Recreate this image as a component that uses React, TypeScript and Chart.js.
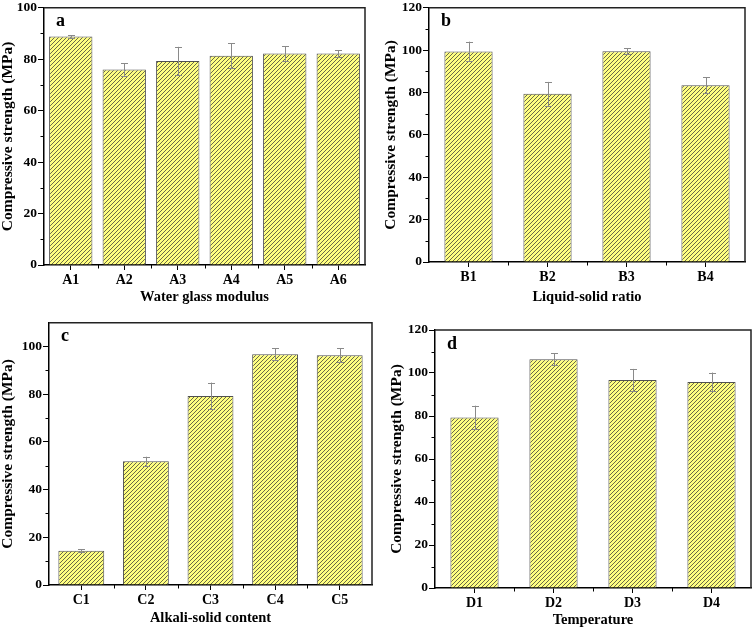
import React, { useEffect, useRef } from 'react';
import { Chart, registerables } from 'chart.js';

Chart.register(...registerables);

// ---- data ----
const catsA = ['A1', 'A2', 'A3', 'A4', 'A5', 'A6'];
const valsA = [88.8, 76.0, 79.3, 81.3, 82.2, 82.2];
const errA = [0.5, 2.5, 5.5, 4.9, 2.8, 1.3];

const catsB = ['B1', 'B2', 'B3', 'B4'];
const valsB = [99.4, 79.4, 99.5, 83.4];
const errB = [4.6, 5.6, 1.3, 3.8];

const catsC = ['C1', 'C2', 'C3', 'C4', 'C5'];
const valsC = [14.4, 51.9, 79.3, 96.8, 96.4];
const errC = [0.5, 1.9, 5.6, 2.5, 3.0];

const catsD = ['D1', 'D2', 'D3', 'D4'];
const valsD = [79.3, 106.4, 96.7, 95.8];
const errD = [5.5, 2.7, 5.2, 4.4];

const yTitle = 'Compressive strength (MPa)';

const FONT = "'Liberation Serif', 'Times New Roman', serif";
const W = 378;
const H = 315;

type Panel = {
  cats: string[];
  vals: number[];
  errs: number[];
  letter: string;
  xTitle: string;
  max: number;
  left: number;
  right: number;
  top: number;
  bottom: number;
  barPct: number;
  yTitlePad: number;
  xTitlePad: number;
  ox: number;
  oy: number;
};

const panels: Panel[] = [
  { cats: catsA, vals: valsA, errs: errA, letter: 'a', xTitle: 'Water glass modulus', max: 100,
    left: 44, right: 365, top: 7, bottom: 265, barPct: 0.81, yTitlePad: 0, xTitlePad: 10.5, ox: 0, oy: 0 },
  { cats: catsB, vals: valsB, errs: errB, letter: 'b', xTitle: 'Liquid-solid ratio', max: 120,
    left: 51, right: 367, top: 7, bottom: 262, barPct: 0.61, yTitlePad: 5, xTitlePad: 10.5, ox: 378, oy: 0 },
  { cats: catsC, vals: valsC, errs: errC, letter: 'c', xTitle: 'Alkali-solid content', max: 110,
    left: 49, right: 372, top: 7, bottom: 270, barPct: 0.71, yTitlePad: 0, xTitlePad: 5, ox: 0, oy: 315 },
  { cats: catsD, vals: valsD, errs: errD, letter: 'd', xTitle: 'Temperature', max: 120,
    left: 57, right: 373, top: 15, bottom: 273, barPct: 0.61, yTitlePad: 11, xTitlePad: 2.5, ox: 378, oy: 315 },
];

function makePattern(ctx: CanvasRenderingContext2D) {
  const c = document.createElement('canvas');
  c.width = 4;
  c.height = 4;
  const p = c.getContext('2d')!;
  p.fillStyle = '#ffff80';
  p.fillRect(0, 0, 4, 4);
  p.strokeStyle = '#6a6a48';
  p.lineWidth = 1;
  p.beginPath();
  p.moveTo(-1, 5); p.lineTo(5, -1);
  p.moveTo(-1, 1); p.lineTo(1, -1);
  p.moveTo(3, 5); p.lineTo(5, 3);
  p.stroke();
  return ctx.createPattern(c, 'repeat');
}

function PanelChart({ cfg }: { cfg: Panel }) {
  const ref = useRef<HTMLCanvasElement | null>(null);
  useEffect(() => {
    const canvas = ref.current!;
    const ctx = canvas.getContext('2d')!;
    const pattern = makePattern(ctx);

    const deco = {
      id: 'deco_' + cfg.letter,
      afterDatasetsDraw(chart: any) {
        const c = chart.ctx;
        const meta = chart.getDatasetMeta(0);
        const ys = chart.scales.y;
        c.save();
        c.strokeStyle = '#8a8a8a';
        c.lineWidth = 1;
        meta.data.forEach((bar: any, i: number) => {
          const v = cfg.vals[i];
          const e = cfg.errs[i];
          const yt = ys.getPixelForValue(v + e);
          const yb = ys.getPixelForValue(v - e);
          const x = Math.round(bar.x) + 0.5;
          c.beginPath();
          c.moveTo(x, yt);
          c.lineTo(x, yb);
          c.moveTo(x - 3.5, Math.round(yt) + 0.5);
          c.lineTo(x + 3.5, Math.round(yt) + 0.5);
          c.moveTo(x - 3.5, Math.round(yb) + 0.5);
          c.lineTo(x + 3.5, Math.round(yb) + 0.5);
          c.stroke();
        });
        c.restore();
      },
      afterDraw(chart: any) {
        const c = chart.ctx;
        const a = chart.chartArea;
        const ys = chart.scales.y;
        const meta = chart.getDatasetMeta(0);
        c.save();
        // frame top/right
        c.strokeStyle = '#222';
        c.lineWidth = 1.5;
        c.beginPath();
        c.moveTo(a.left, a.top);
        c.lineTo(a.right, a.top);
        c.lineTo(a.right, a.bottom);
        c.stroke();
        // minor y ticks
        c.strokeStyle = '#000';
        c.lineWidth = 1;
        c.beginPath();
        for (let v = 10; v < cfg.max; v += 20) {
          const py = Math.round(ys.getPixelForValue(v)) + 0.5;
          c.moveTo(a.left - 3.5, py);
          c.lineTo(a.left, py);
        }
        // minor x ticks between categories
        for (let i = 1; i < meta.data.length; i++) {
          const px = Math.round((meta.data[i - 1].x + meta.data[i].x) / 2) + 0.5;
          c.moveTo(px, a.bottom);
          c.lineTo(px, a.bottom + 3.5);
        }
        c.stroke();
        // panel letter
        c.fillStyle = '#000';
        c.font = `bold 18px ${FONT}`;
        c.textBaseline = 'middle';
        c.textAlign = 'left';
        c.fillText(cfg.letter, a.left + 12, a.top + 14);
        c.restore();
      },
    };

    const chart = new Chart(canvas, {
      type: 'bar',
      data: {
        labels: cfg.cats,
        datasets: [
          {
            data: cfg.vals,
            backgroundColor: pattern as any,
            borderColor: '#505050',
            borderWidth: 1,
            categoryPercentage: 1,
            barPercentage: cfg.barPct,
          },
        ],
      },
      options: {
        responsive: false,
        animation: false,
        events: [],
        layout: { padding: { top: cfg.top, right: W - cfg.right, bottom: 0, left: 0 } },
        plugins: { legend: { display: false }, tooltip: { enabled: false } },
        scales: {
          x: {
            offset: true,
            grid: { display: true, drawOnChartArea: false, offset: false, tickLength: 5, color: '#000', tickWidth: 1 },
            border: { display: true, color: '#000', width: 1.5 },
            ticks: { color: '#000', padding: 3, font: { family: FONT, size: 14, weight: 'bold', lineHeight: 1 } },
            title: {
              display: true,
              text: cfg.xTitle,
              color: '#000',
              font: { family: FONT, size: 14.5, weight: 'bold', lineHeight: 1 },
              padding: { top: 0, bottom: cfg.xTitlePad },
            },
            afterFit: (s: any) => { s.height = H - cfg.bottom; },
          },
          y: {
            min: 0,
            max: cfg.max,
            grid: { display: true, drawOnChartArea: false, tickLength: 6, color: '#000', tickWidth: 1 },
            border: { display: true, color: '#000', width: 1.5 },
            ticks: { stepSize: 20, color: '#000', padding: 1, font: { family: FONT, size: 13.5, weight: 'bold', lineHeight: 1 } },
            afterBuildTicks: (s: any) => { s.ticks = s.ticks.filter((t: any) => t.value % 20 === 0); },
            title: {
              display: true,
              text: yTitle,
              color: '#000',
              font: { family: FONT, size: 15.5, weight: 'bold', lineHeight: 1 },
              padding: { top: cfg.yTitlePad, bottom: 0 },
            },
            afterFit: (s: any) => { s.width = cfg.left; },
          },
        },
      },
      plugins: [deco],
    } as any);
    return () => chart.destroy();
  }, [cfg]);
  return (
    <canvas
      ref={ref}
      width={W}
      height={H}
      style={{ position: 'absolute', left: cfg.ox, top: cfg.oy, width: W, height: H }}
    />
  );
}

export default function App() {
  return (
    <div style={{ position: 'absolute', left: 0, top: 0, width: 756, height: 630, background: '#fff' }}>
      {panels.map((p) => (
        <PanelChart key={p.letter} cfg={p} />
      ))}
    </div>
  );
}
